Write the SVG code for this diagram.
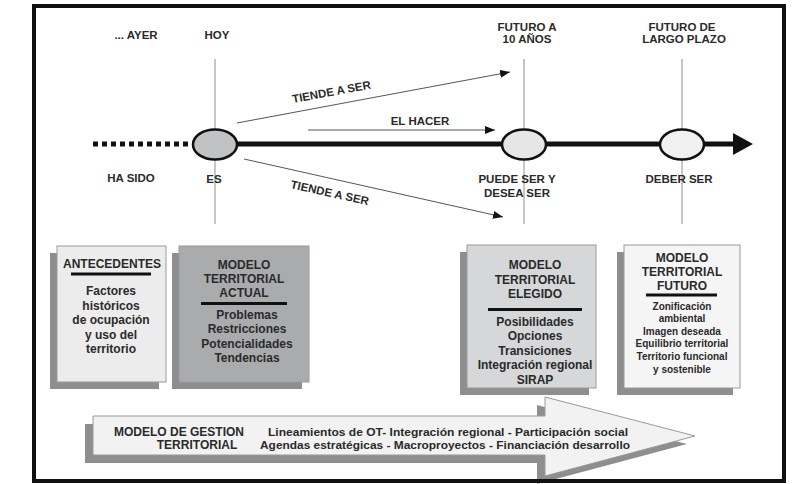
<svg xmlns="http://www.w3.org/2000/svg" width="795" height="484" viewBox="0 0 795 484">
<defs>
<marker id="ah" viewBox="0 0 10 8" refX="10" refY="4" markerWidth="10" markerHeight="8" markerUnits="userSpaceOnUse" orient="auto"><path d="M0,0 L10,4 L0,8 Z" fill="#111"/></marker>
</defs>
<style>
text{font-family:"Liberation Sans",Arial,sans-serif;font-weight:bold;fill:#2a2a2a}
.lbl{font-size:11.5px;text-anchor:middle}
.t{text-anchor:middle;font-size:12px}
.s{text-anchor:middle;font-size:10px}
.shadow{fill:#8e8e8e}
.box{stroke:#9a9a9a;stroke-width:1}
.vl{stroke:#a0a0a0;stroke-width:1.2}
.thin{stroke:#555;stroke-width:1;fill:none}
.bar{stroke:#111;stroke-width:3}
.node{stroke:#111;stroke-width:2.5}
</style>
<rect width="795" height="484" fill="#fff"/>
<rect x="34" y="6" width="750" height="475" fill="#fff" stroke="#111" stroke-width="4"/>

<g id="time-labels">
<text class="lbl" x="136" y="39">... AYER</text>
<text class="lbl" x="217" y="39">HOY</text>
<text class="lbl" x="527" y="31">FUTURO A</text>
<text class="lbl" x="527" y="43">10 AÑOS</text>
<text class="lbl" x="682" y="31">FUTURO DE</text>
<text class="lbl" x="684" y="43">LARGO PLAZO</text>
</g>

<g id="guides">
<line class="vl" x1="215" y1="59" x2="215" y2="224"/>
<line class="vl" x1="524" y1="59" x2="524" y2="224"/>
<line class="vl" x1="682" y1="59" x2="682" y2="224"/>
</g>

<g id="connectors">
<line x1="93" y1="144" x2="193" y2="144" stroke="#111" stroke-width="5" stroke-dasharray="5 4"/>
<line x1="215" y1="144" x2="735" y2="144" stroke="#111" stroke-width="5"/>
<polygon points="733,133 753,144 733,155" fill="#111"/>
<line class="thin" x1="237" y1="123" x2="510" y2="72" marker-end="url(#ah)"/>
<line class="thin" x1="308" y1="130" x2="495" y2="130" marker-end="url(#ah)"/>
<line class="thin" x1="244" y1="159" x2="503" y2="217" marker-end="url(#ah)"/>
<text x="293" y="103" font-size="11.5" transform="rotate(-10.5 293 103)">TIENDE A SER</text>
<text x="420" y="125" class="lbl">EL HACER</text>
<text x="290" y="188" font-size="11.5" transform="rotate(12.5 290 188)">TIENDE A SER</text>
</g>

<g id="node-es">
<ellipse class="node" cx="215" cy="144.5" rx="22" ry="15" fill="#c0c2c4"/>
<text class="lbl" x="131" y="182">HA SIDO</text>
<text class="lbl" x="214" y="183">ES</text>
</g>
<g id="node-puede">
<ellipse class="node" cx="524" cy="144.5" rx="22" ry="15" fill="#e6e6e6"/>
<text class="lbl" x="517" y="183">PUEDE SER Y</text>
<text class="lbl" x="517" y="197">DESEA SER</text>
</g>
<g id="node-deber">
<ellipse class="node" cx="682" cy="144.5" rx="22" ry="15" fill="#f0f0f0"/>
<text class="lbl" x="679" y="183">DEBER SER</text>
</g>

<g id="box-antecedentes">
<rect class="shadow" x="50" y="253" width="109" height="136"/>
<rect class="box" x="57" y="246" width="109" height="136" fill="#ececec"/>
<text class="t" x="112" y="268" font-size="11">ANTECEDENTES</text>
<line class="bar" x1="71" y1="274" x2="151" y2="274"/>
<text class="t" x="111" y="295">Factores</text>
<text class="t" x="111" y="309.5">históricos</text>
<text class="t" x="111" y="324">de ocupación</text>
<text class="t" x="111" y="338.5">y uso del</text>
<text class="t" x="111" y="353">territorio</text>
</g>

<g id="box-actual">
<rect class="shadow" x="172" y="253" width="130" height="136"/>
<rect class="box" x="179" y="246" width="130" height="136" fill="#a9abad"/>
<text class="t" x="244" y="269">MODELO</text>
<text class="t" x="244" y="283">TERRITORIAL</text>
<text class="t" x="244" y="297">ACTUAL</text>
<line class="bar" x1="201" y1="303.5" x2="287" y2="303.5"/>
<text class="t" x="247" y="319">Problemas</text>
<text class="t" x="247" y="333">Restricciones</text>
<text class="t" x="247" y="348">Potencialidades</text>
<text class="t" x="247" y="362">Tendencias</text>
</g>

<g id="box-elegido">
<rect class="shadow" x="460" y="252" width="129" height="143"/>
<rect class="box" x="467" y="245" width="129" height="143" fill="#d5d7d8"/>
<text class="t" x="535" y="269" font-size="11">MODELO</text>
<text class="t" x="535" y="284" font-size="11">TERRITORIAL</text>
<text class="t" x="535" y="298" font-size="11">ELEGIDO</text>
<line class="bar" x1="488" y1="309.5" x2="582" y2="309.5"/>
<text class="t" x="535" y="326">Posibilidades</text>
<text class="t" x="535" y="340">Opciones</text>
<text class="t" x="535" y="355">Transiciones</text>
<text class="t" x="535" y="369" font-size="11.5">Integración regional</text>
<text class="t" x="535" y="384">SIRAP</text>
</g>

<g id="box-futuro">
<rect class="shadow" x="617" y="252" width="116" height="143"/>
<rect class="box" x="624" y="245" width="116" height="143" fill="#f5f5f5"/>
<text class="t" x="682" y="262" font-size="11">MODELO</text>
<text class="t" x="682" y="276" font-size="11">TERRITORIAL</text>
<text class="t" x="682" y="290" font-size="11">FUTURO</text>
<line class="bar" x1="646" y1="295" x2="717" y2="295"/>
<text class="s" x="682" y="310">Zonificación</text>
<text class="s" x="682" y="322">ambiental</text>
<text class="s" x="682" y="335">Imagen  deseada</text>
<text class="s" x="682" y="347">Equilibrio territorial</text>
<text class="s" x="682" y="360">Territorio funcional</text>
<text class="s" x="682" y="373">y sostenible</text>
</g>

<g id="arrow-gestion">
<polygon class="shadow" points="85,424 537,424 537,405 687,444 537,484 537,463 85,463"/>
<polygon points="93,416 545,416 545,397 695,436 545,476 545,455 93,455" fill="#f2f2f2" stroke="#9a9a9a" stroke-width="1"/>
<text class="t" x="179" y="436">MODELO DE GESTION</text>
<text class="t" x="197" y="449">TERRITORIAL</text>
<text x="268" y="436" font-size="11.5" textLength="360" lengthAdjust="spacingAndGlyphs">Lineamientos de OT- Integración regional - Participación social</text>
<text x="260" y="449" font-size="11.5" textLength="370" lengthAdjust="spacingAndGlyphs">Agendas estratégicas - Macroproyectos - Financiación desarrollo</text>
</g>
<rect x="34" y="6" width="750" height="475" fill="none" stroke="#111" stroke-width="4"/>
</svg>
